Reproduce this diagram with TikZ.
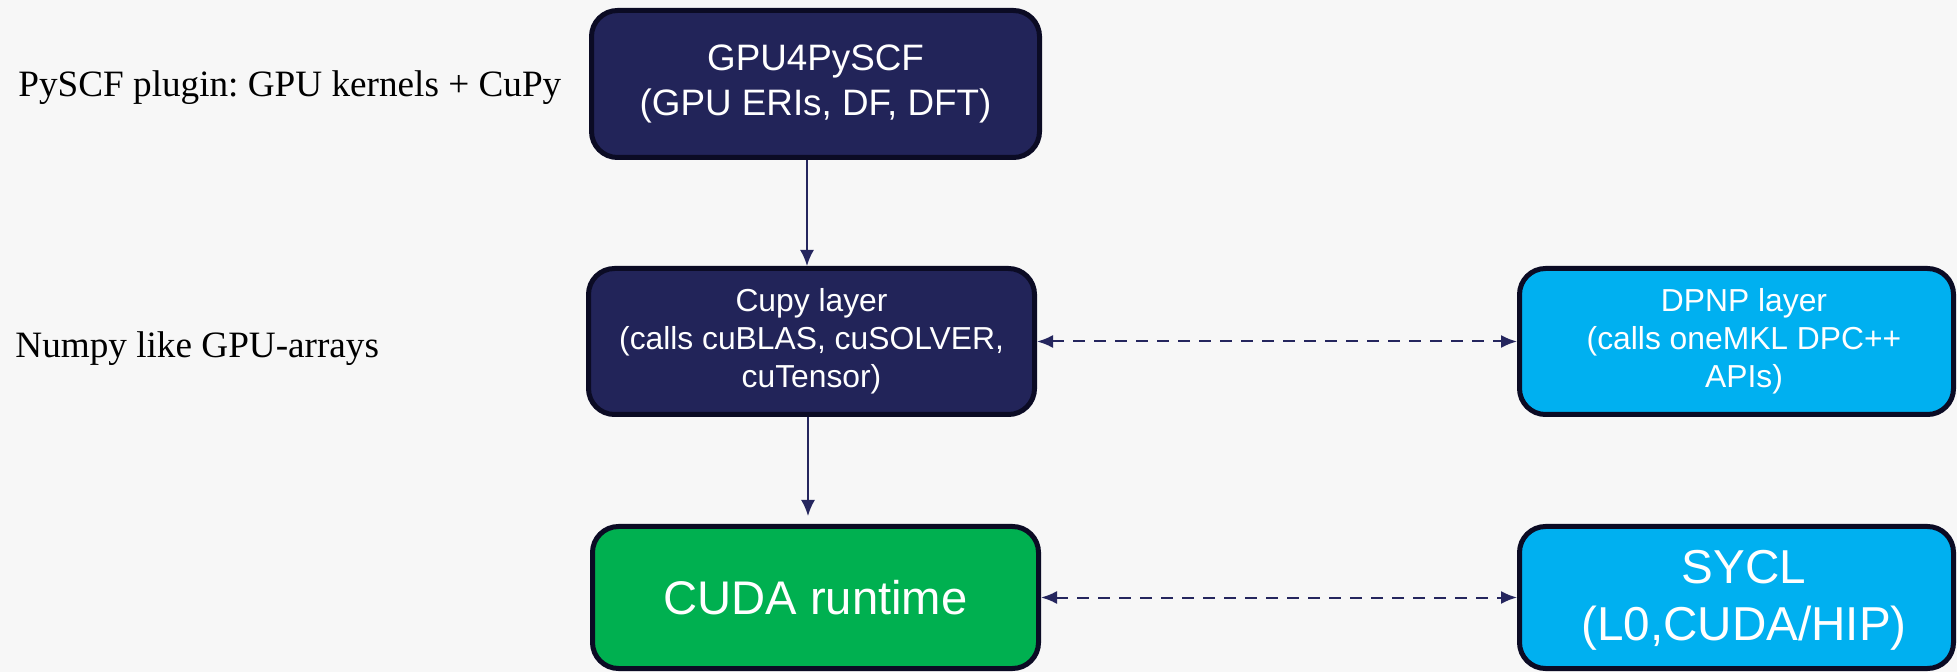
\documentclass[tikz,border=0pt]{standalone}
\usepackage{fontspec}
\setmainfont{Liberation Serif}
\newfontfamily\arialf{Liberation Sans}
\usetikzlibrary{arrows.meta}
\frenchspacing
\definecolor{bgc}{HTML}{F7F7F7}
\definecolor{navyfill}{HTML}{222459}
\definecolor{bordc}{HTML}{0B0B24}
\definecolor{greenfill}{HTML}{00B050}
\definecolor{bluefill}{HTML}{00B0F0}
\definecolor{arrc}{HTML}{25265E}
\begin{document}
\begin{tikzpicture}[x=0.5pt,y=-0.5pt,
  box/.style={draw=bordc, line width=2.5pt, rounded corners=13pt, text=white, align=center, inner sep=0pt, font=\arialf},
  navybox/.style={box, fill=navyfill},
  greenbox/.style={box, fill=greenfill},
  bluebox/.style={box, fill=bluefill},
  boxtext/.style={text=white, align=center, inner sep=0pt},
  arr/.style={draw=arrc, line width=1pt, -{Latex[length=8pt,width=7pt]}},
  darr/.style={draw=arrc, line width=1pt, {Latex[length=8pt,width=6.5pt]}-{Latex[length=8pt,width=6.5pt]}, dash pattern=on 6pt off 4.5pt},
  side/.style={anchor=base west, inner sep=0pt, text=black, font=\fontsize{18.6}{22}\selectfont}
]
\fill[bgc] (0,0) rectangle (1957,672);
\useasboundingbox (0,0) rectangle (1957,672);

\node[side] (lab1) at (18,97) {PySCF plugin: GPU kernels + CuPy};
\node[side] (lab2) at (15,358) {Numpy like GPU-arrays};

\node[navybox, minimum width=224pt, minimum height=73.5pt,
      font=\arialf\fontsize{18.4}{22.5}\selectfont] (gpu) at (815.5,84)
      {GPU4PySCF\\(GPU ERIs, DF, DFT)};
\node[navybox, minimum width=223pt, minimum height=73pt,
      font=\arialf\fontsize{15.9}{19}\selectfont] (cupy) at (811.5,341.5)
      {Cupy layer\\(calls cuBLAS, cuSOLVER,\\cuTensor)};
\node[bluebox, minimum width=217pt, minimum height=73pt] (dpnp) at (1736.5,341.5) {};
\node[boxtext, font=\arialf\fontsize{15.9}{19}\selectfont] (dpnptxt) at (1744,341.5)
      {DPNP layer\\(calls oneMKL DPC++\\APIs)};
\node[greenbox, minimum width=223pt, minimum height=71pt,
      font=\arialf\fontsize{23.6}{28}\selectfont] (cuda) at (815.5,597.5)
      {CUDA runtime};
\node[bluebox, minimum width=217pt, minimum height=71pt] (sycl) at (1736.5,597.5) {};
\node[boxtext, font=\arialf\fontsize{23.8}{28.5}\selectfont] (sycltxt) at (1744,600)
      {SYCL\\(L0,CUDA/HIP)};

\draw[arr] (gpu.south -| 807,0) -- (cupy.north -| 807,0);
\draw[arr, shorten >=4pt] (cupy.south -| 808,0) -- (cuda.north -| 808,0);
\draw[darr] (cupy.east) -- (dpnp.west);
\draw[darr] (cuda.east) -- (sycl.west);
\end{tikzpicture}
\end{document}
